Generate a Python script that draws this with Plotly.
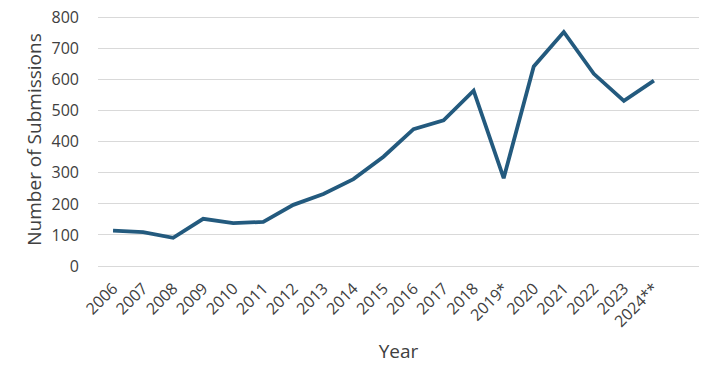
import plotly.graph_objects as go

years = ["2006", "2007", "2008", "2009", "2010", "2011", "2012", "2013", "2014", "2015",
         "2016", "2017", "2018", "2019*", "2020", "2021", "2022", "2023", "2024**"]
submissions = [114, 109, 91, 152, 138, 142, 197, 232, 280, 352,
               441, 469, 565, 283, 643, 754, 619, 532, 597]
y_ticks = [0, 100, 200, 300, 400, 500, 600, 700, 800]

FONT = "Open Sans, Liberation Sans, Arial, sans-serif"
GRAY = "#404040"

fig = go.Figure()
fig.add_trace(go.Scatter(
    x=list(range(len(years))), y=submissions, mode="lines",
    line=dict(color="#235a7e", width=3.8),
    hoverinfo="skip", showlegend=False,
))

fig.update_layout(
    width=720, height=372,
    margin=dict(l=98, r=21, t=13, b=106),
    paper_bgcolor="white", plot_bgcolor="white",
    font=dict(family=FONT, color=GRAY, size=14),
    xaxis=dict(
        tickmode="array", tickvals=list(range(len(years))), ticktext=years,
        range=[-0.5, len(years) + 0.5], automargin=False,
        tickangle=-45, showgrid=False, zeroline=False, showline=False,
        ticks="", ticklabelstandoff=9,
        tickfont=dict(size=16, color=GRAY, family=FONT),
        title=dict(text="Year", font=dict(size=19, color=GRAY, family=FONT), standoff=14),
    ),
    yaxis=dict(
        range=[0, 815], tickvals=y_ticks, automargin=False,
        ticklabeloverflow="allow",
        showgrid=True, gridcolor="#d9d9d9", gridwidth=1.3,
        zeroline=True, zerolinecolor="#d9d9d9", zerolinewidth=1.3,
        showline=False, ticks="", ticklabelstandoff=18,
        tickfont=dict(size=16, color=GRAY, family=FONT),
        title=dict(text="Number of Submissions", font=dict(size=19, color=GRAY, family=FONT), standoff=4),
    ),
)

fig.write_html("out.html", config={"displayModeBar": False},
               post_script="document.body.style.margin='0';")
